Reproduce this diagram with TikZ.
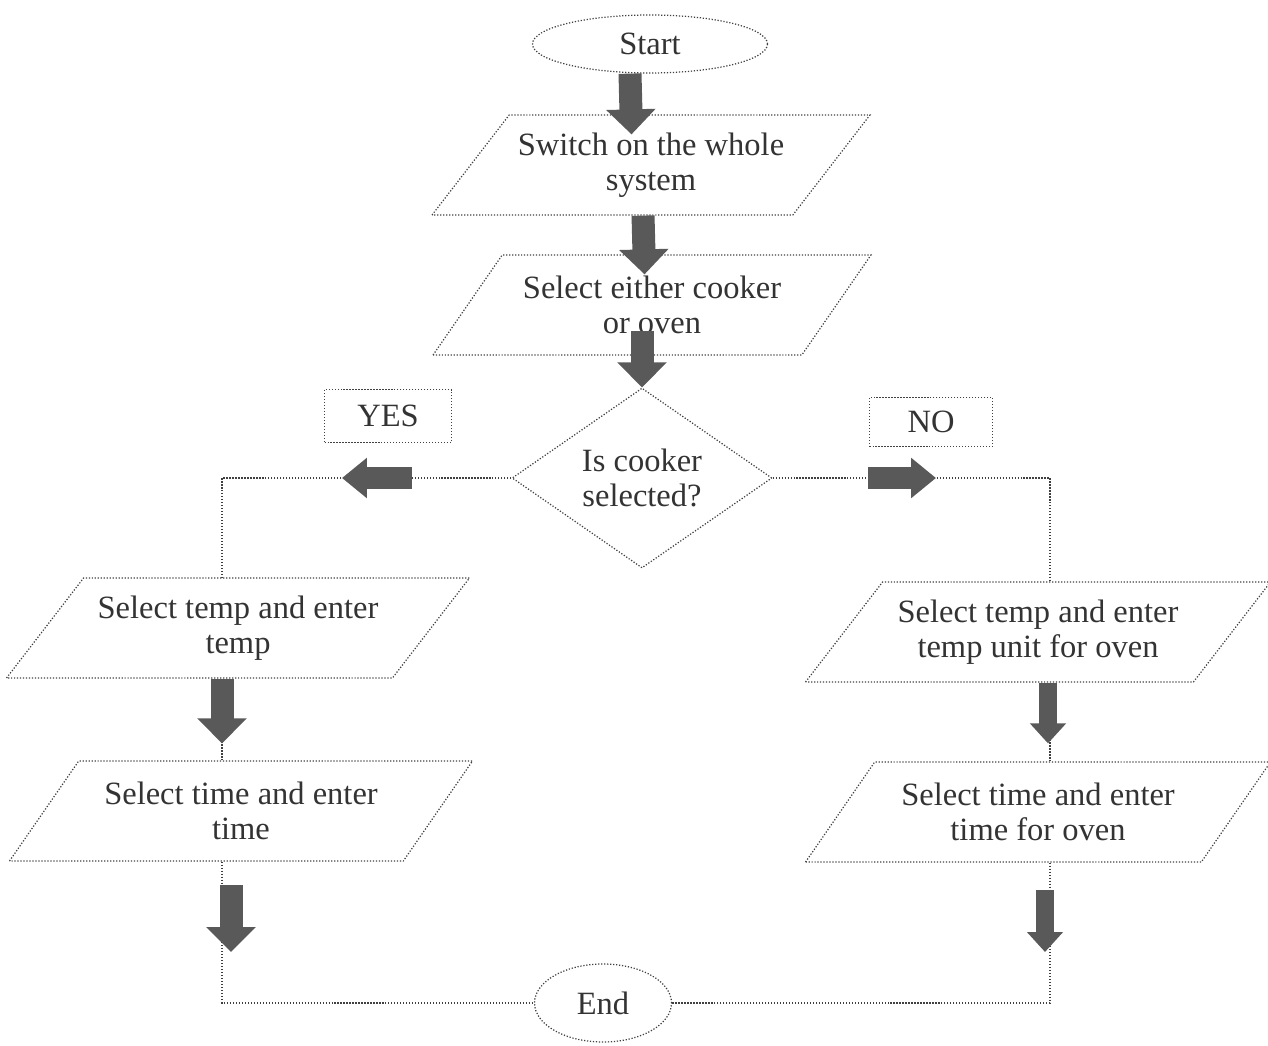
\documentclass[tikz,border=0pt]{standalone}
\usepackage{fontspec}
\setmainfont{Liberation Serif}
\usetikzlibrary{calc,arrows.meta,shapes.geometric}

\tikzset{
  flowline/.style={densely dotted, draw=black!75, line width=0.7pt},
  txt/.style={text=black!80, font=\fontsize{18.5}{20}\selectfont, align=center},
  iobox/.style={flowline, txt, trapezium, trapezium left angle=40, trapezium right angle=140,
    trapezium stretches body, minimum width=8.76cm, minimum height=2cm, inner sep=0pt},
  decision/.style={flowline, txt, diamond, minimum width=5.2cm, minimum height=3.6cm, inner sep=0pt},
  terminal/.style={flowline, txt, ellipse, inner sep=0pt},
  tag/.style={flowline, txt, rectangle, inner sep=0pt},
  fat/.style={draw=black!65, line width=0.46cm, -{Triangle[width=0.96cm,length=0.5cm]}},
  slim/.style={draw=black!65, line width=0.36cm, -{Triangle[width=0.7cm,length=0.4cm]}},
  side/.style={draw=black!65, line width=0.44cm, -{Triangle[width=0.78cm,length=0.5cm]}}
}

\begin{document}
\begin{tikzpicture}[x=0.02cm, y=-0.02cm]
  \useasboundingbox (0,0) rectangle (1268,1045);
  %%%%% BOXES %%%%%
  \node[terminal, minimum width=4.7cm, minimum height=1.16cm] (start) at (650,44) {Start};
  \node[iobox] (switch) at (651,165) {Switch on the whole\\system};
  \node[iobox] (choose) at (652,305) {Select either cooker\\or oven};
  \node[decision] (cooker) at (642,478) {Is cooker\\selected?};
  \node[tag, minimum width=2.54cm, minimum height=1.06cm] (yes) at (388,416) {YES};
  \node[tag, minimum width=2.46cm, minimum height=0.98cm] (no) at (931,422) {NO};
  \node[iobox, minimum width=9.26cm] (ctemp) at (238,628) {Select temp and enter\\temp};
  \node[iobox, minimum width=9.26cm] (ctime) at (241,811) {Select time and enter\\time};
  \node[iobox, minimum width=9.3cm] (otemp) at (1038,632) {Select temp and enter\\temp unit for oven};
  \node[iobox, minimum width=9.3cm] (otime) at (1038,812) {Select time and enter\\time for oven};
  \node[terminal, minimum width=2.74cm, minimum height=1.56cm] (end) at (603,1003) {End};

  \coordinate (lcol) at (222,478);
  \coordinate (rcol) at (1050,478);

  %%%%% LINES %%%%%
  \draw[flowline] (cooker.west) -- (lcol) -- (lcol |- ctemp.north);
  \draw[flowline] (cooker.east) -- (rcol) -- (rcol |- otemp.north);
  \draw[flowline] (lcol |- ctemp.south) -- (lcol |- ctime.north);
  \draw[flowline] (rcol |- otemp.south) -- (rcol |- otime.north);
  \draw[flowline] (lcol |- ctime.south) -- (lcol |- end.west) -- (end.west);
  \draw[flowline] (rcol |- otime.south) -- (rcol |- end.east) -- (end.east);

  %%%%% BLOCK ARROWS %%%%%
  \draw[fat, shorten >=-0.4cm] ([xshift=-0.4cm]start.south) -- ([xshift=-0.4cm]switch.north);
  \draw[fat, shorten >=-0.4cm] ([xshift=-0.16cm]switch.south) -- ([xshift=-0.16cm]choose.north);
  \draw[fat, shorten <=-0.5cm] (cooker.north |- choose.south) -- (cooker.north);

  \coordinate (yesA) at (412,478);
  \coordinate (yesB) at (342,478);
  \draw[side] (yesA) -- (yesB);
  \coordinate (noA) at (868,478);
  \coordinate (noB) at (936,478);
  \draw[side] (noA) -- (noB);

  \draw[fat, shorten >=0.34cm] (lcol |- ctemp.south) -- (lcol |- ctime.north);
  \draw[slim, shorten >=0.36cm] ([xshift=-0.04cm]rcol |- otemp.south) -- ([xshift=-0.04cm]rcol |- otime.north);

  \coordinate (lowA) at (231,885);
  \coordinate (lowB) at (231,952);
  \draw[fat] (lowA) -- (lowB);
  \coordinate (oowA) at (1045,890);
  \coordinate (oowB) at (1045,952);
  \draw[slim] (oowA) -- (oowB);
\end{tikzpicture}
\end{document}
